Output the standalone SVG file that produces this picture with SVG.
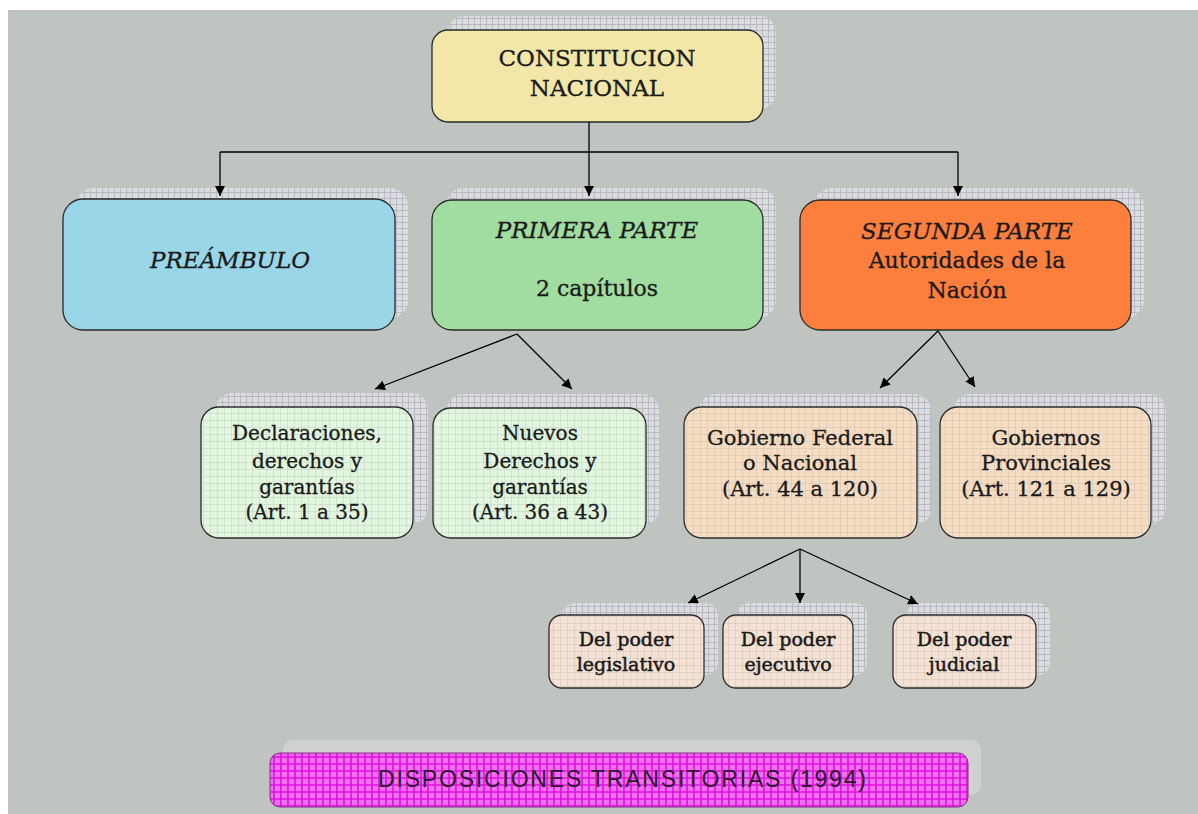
<svg xmlns="http://www.w3.org/2000/svg" width="1198" height="814" viewBox="0 0 1198 814">
<defs>
<pattern id="grid" width="6" height="6" patternUnits="userSpaceOnUse">
<rect width="6" height="6" fill="#e2e2e6"/>
<path d="M0,0.5 H6 M0.5,0 V6" stroke="#a8a6b4" stroke-width="0.7"/>
</pattern>
<pattern id="fine" width="7" height="7" patternUnits="userSpaceOnUse">
<path d="M0,0.5 H7 M0.5,0 V7" stroke="#8a9a8a" stroke-width="0.6" opacity="0.35"/>
</pattern>
<pattern id="pink" width="7" height="7" patternUnits="userSpaceOnUse">
<rect width="7" height="7" fill="#f070f0"/>
<path d="M0,1 H7 M1,0 V7" stroke="#e010e0" stroke-width="1.6"/>
</pattern>
<marker id="arr" viewBox="0 0 10 10" refX="10" refY="5" markerWidth="10" markerHeight="10" markerUnits="userSpaceOnUse" orient="auto">
<path d="M0,0 L10,5 L0,10 z" fill="#000"/>
</marker>
</defs>
<style>
.shadow{fill:url(#grid);opacity:0.8}
.box{stroke:#2a2a2a;stroke-width:1.3}
.t{font-family:"DejaVu Serif","Liberation Serif",serif;fill:#1a1a1a;text-anchor:middle;stroke:#1a1a1a;stroke-width:0.3}
.big{font-size:22px}
.bi{font-size:23px;font-style:italic}
.mid{font-size:20px}
.sm{font-size:19px;stroke-width:0.5}
.conn{stroke:#000;stroke-width:1.3;fill:none}
</style>
<rect width="1198" height="814" fill="#ffffff"/>
<rect x="8" y="10" width="1190" height="804" fill="#bfc4c1"/>

<g id="constitucion">
<rect class="shadow" x="448" y="16" width="328" height="93" rx="16"/>
<rect class="box" x="432" y="30" width="331" height="92" rx="16" fill="#f2e6a8"/>
<text class="t" font-size="23" x="597" y="66">CONSTITUCION</text>
<text class="t" font-size="23" x="597" y="96">NACIONAL</text>
</g>

<g id="preambulo">
<rect class="shadow" x="76" y="188" width="332" height="130" rx="18"/>
<rect class="box" x="63" y="199" width="332" height="131" rx="20" fill="#98d6e8"/>
<text class="t bi" x="230" y="268">PREÁMBULO</text>
</g>

<g id="primera">
<rect class="shadow" x="446" y="188" width="330" height="130" rx="18"/>
<rect class="box" x="432" y="200" width="331" height="130" rx="20" fill="#a1dca0"/>
<text class="t bi" x="597" y="238">PRIMERA PARTE</text>
<text class="t big" x="597" y="296">2 capítulos</text>
</g>

<g id="segunda">
<rect class="shadow" x="814" y="188" width="330" height="130" rx="18"/>
<rect class="box" x="800" y="200" width="331" height="130" rx="20" fill="#fd7f3d"/>
<text class="t bi" x="967" y="239">SEGUNDA PARTE</text>
<text class="t big" x="967" y="268">Autoridades de la</text>
<text class="t big" x="967" y="298">Nación</text>
</g>

<g id="declaraciones">
<rect class="shadow" x="216" y="393" width="212" height="131" rx="16" opacity="0.6"/>
<rect class="box" x="201" y="407" width="212" height="131" rx="18" fill="#e2f6e0"/>
<rect x="201" y="407" width="212" height="131" rx="18" fill="url(#fine)"/>
<text class="t mid" x="307" y="440">Declaraciones,</text>
<text class="t mid" x="307" y="468">derechos y</text>
<text class="t mid" x="307" y="494">garantías</text>
<text class="t mid" x="307" y="519">(Art. 1 a 35)</text>
</g>

<g id="nuevos">
<rect class="shadow" x="447" y="394" width="212" height="131" rx="16" opacity="0.6"/>
<rect class="box" x="433" y="408" width="213" height="130" rx="18" fill="#e2f6e0"/>
<rect x="433" y="408" width="213" height="130" rx="18" fill="url(#fine)"/>
<text class="t mid" x="540" y="440">Nuevos</text>
<text class="t mid" x="540" y="468">Derechos y</text>
<text class="t mid" x="540" y="494">garantías</text>
<text class="t mid" x="540" y="519">(Art. 36 a 43)</text>
</g>

<g id="gobierno-federal">
<rect class="shadow" x="699" y="394" width="232" height="131" rx="16" opacity="0.6"/>
<rect class="box" x="684" y="407" width="233" height="131" rx="18" fill="#f6dcc2"/>
<rect x="684" y="407" width="233" height="131" rx="18" fill="url(#fine)"/>
<text class="t" font-size="21" x="800" y="445">Gobierno Federal</text>
<text class="t" font-size="21" x="800" y="470">o Nacional</text>
<text class="t" font-size="21" x="800" y="496">(Art. 44 a 120)</text>
</g>

<g id="gobiernos-provinciales">
<rect class="shadow" x="954" y="394" width="212" height="131" rx="16" opacity="0.6"/>
<rect class="box" x="940" y="407" width="211" height="131" rx="18" fill="#f6dcc2"/>
<rect x="940" y="407" width="211" height="131" rx="18" fill="url(#fine)"/>
<text class="t" font-size="21" x="1046" y="445">Gobiernos</text>
<text class="t" font-size="21" x="1046" y="470">Provinciales</text>
<text class="t" font-size="21" x="1046" y="496">(Art. 121 a 129)</text>
</g>

<g id="legislativo">
<rect class="shadow" x="562" y="603" width="156" height="72" rx="12" opacity="0.6"/>
<rect class="box" x="549" y="615" width="155" height="73" rx="13" fill="#f6e2d4"/>
<rect x="549" y="615" width="155" height="73" rx="13" fill="url(#fine)"/>
<text class="t sm" x="626" y="646">Del poder</text>
<text class="t sm" x="626" y="671">legislativo</text>
</g>

<g id="ejecutivo">
<rect class="shadow" x="737" y="603" width="130" height="72" rx="12" opacity="0.6"/>
<rect class="box" x="723" y="615" width="130" height="73" rx="13" fill="#f6e2d4"/>
<rect x="723" y="615" width="130" height="73" rx="13" fill="url(#fine)"/>
<text class="t sm" x="788" y="646">Del poder</text>
<text class="t sm" x="788" y="671">ejecutivo</text>
</g>

<g id="judicial">
<rect class="shadow" x="907" y="603" width="143" height="72" rx="12" opacity="0.6"/>
<rect class="box" x="893" y="615" width="143" height="73" rx="13" fill="#f6e2d4"/>
<rect x="893" y="615" width="143" height="73" rx="13" fill="url(#fine)"/>
<text class="t sm" x="964" y="646">Del poder</text>
<text class="t sm" x="964" y="671">judicial</text>
</g>

<g id="disposiciones">
<rect x="283" y="740" width="698" height="55" rx="10" fill="#cfd2cf"/>
<rect x="270" y="753" width="698" height="54" rx="10" fill="url(#pink)" stroke="#8a2a8a" stroke-width="1"/>
<text x="622" y="787" font-family="Liberation Sans, Arial, sans-serif" font-size="23" fill="#2a1a2a" text-anchor="middle" textLength="488" lengthAdjust="spacing">DISPOSICIONES TRANSITORIAS (1994)</text>
</g>

<g id="connectors">
<path class="conn" d="M589,122 V152 M220,152 H958"/>
<path class="conn" d="M220,152 V196" marker-end="url(#arr)"/>
<path class="conn" d="M589,152 V196" marker-end="url(#arr)"/>
<path class="conn" d="M958,152 V196" marker-end="url(#arr)"/>
<path class="conn" d="M517,334 L375,389" marker-end="url(#arr)"/>
<path class="conn" d="M517,334 L572,389" marker-end="url(#arr)"/>
<path class="conn" d="M938,331 L880,388" marker-end="url(#arr)"/>
<path class="conn" d="M938,331 L975,387" marker-end="url(#arr)"/>
<path class="conn" d="M800,549 L688,603" marker-end="url(#arr)"/>
<path class="conn" d="M800,549 V603" marker-end="url(#arr)"/>
<path class="conn" d="M800,549 L918,604" marker-end="url(#arr)"/>
</g>
</svg>
